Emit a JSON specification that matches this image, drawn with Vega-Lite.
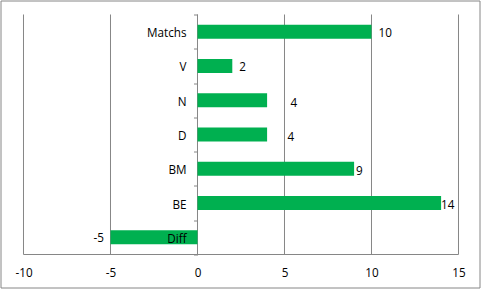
{
  "$schema": "https://vega.github.io/schema/vega-lite/v6.json",
  "width": 479,
  "height": 287,
  "autosize": {"type": "none"},
  "padding": {"left": 0.5, "top": 0.5, "right": 1.5, "bottom": 1.5},
  "background": "white",
  "config": {
    "view": {"stroke": "#868686", "strokeWidth": 1},
    "font": "Open Sans",
    "text": {"font": "Open Sans", "fontSize": 11.7, "color": "black"}
  },
  "datasets": {
    "stats": [
      {"cat": "Matchs", "value": 10},
      {"cat": "V", "value": 2},
      {"cat": "N", "value": 4},
      {"cat": "D", "value": 4},
      {"cat": "BM", "value": 9},
      {"cat": "BE", "value": 14},
      {"cat": "Diff", "value": -5}
    ],
    "grid": [{"g": -10}, {"g": -5}, {"g": 0}, {"g": 5}, {"g": 10}, {"g": 15}]
  },
  "layer": [
    {
      "data": {"name": "grid"},
      "mark": {"type": "rule", "color": "#868686", "strokeWidth": 1},
      "encoding": {
        "x": {"field": "g", "type": "quantitative", "scale": {"domain": [-11.3218, 16.2069], "nice": false, "zero": false},
          "axis": {"orient": "bottom", "offset": -33, "values": [-10, -5, 0, 5, 10, 15], "domain": false, "ticks": false, "tickSize": 0, "grid": false, "labelPadding": 13, "labelFontSize": 11.7, "labelFont": "Open Sans", "labelColor": "black", "title": null, "labelFlush": false, "labelOverlap": false, "labelExpr": "datum.value + ''"}},
        "y": {"datum": "Matchs", "type": "nominal", "bandPosition": 0, "scale": {"domain": ["Matchs", "V", "N", "D", "BM", "BE", "Diff"], "paddingInner": 0, "paddingOuter": 0.6854, "align": 0.29787, "round": false},
          "axis": {"orient": "left", "offset": -197, "domain": false, "ticks": true, "tickBand": "extent", "tickSize": 4, "tickColor": "#868686", "tickWidth": 1, "grid": false, "labelPadding": 7.5, "labelFontSize": 11.7, "labelFont": "Open Sans", "labelColor": "black", "labelOffset": 1, "title": null, "zindex": 1}},
        "y2": {"datum": "Diff", "bandPosition": 1}
      }
    },
    {
      "data": {"values": [{}]},
      "mark": {"type": "rule", "color": "#868686", "strokeWidth": 1},
      "encoding": {
        "x": {"datum": -10, "type": "quantitative"},
        "x2": {"datum": 15},
        "y": {"datum": "Diff", "type": "nominal", "bandPosition": 1}
      }
    },
    {
      "data": {"name": "stats"},
      "mark": {"type": "bar", "color": "#00B050", "height": {"band": 0.408}},
      "encoding": {
        "x": {"field": "value", "type": "quantitative"},
        "x2": {"datum": 0},
        "y": {"field": "cat", "type": "nominal", "sort": null}
      }
    },
    {
      "data": {"name": "stats"},
      "transform": [{"filter": "datum.cat === 'Matchs' || datum.cat === 'V'"}],
      "mark": {"type": "text", "align": "left", "baseline": "middle", "dx": 7, "dy": 1.5},
      "encoding": {"x": {"field": "value", "type": "quantitative"}, "y": {"field": "cat", "type": "nominal"}, "text": {"field": "value", "type": "nominal"}}
    },
    {
      "data": {"name": "stats"},
      "transform": [{"filter": "datum.cat === 'N'"}],
      "mark": {"type": "text", "align": "left", "baseline": "middle", "dx": 23.5, "dy": 3},
      "encoding": {"x": {"field": "value", "type": "quantitative"}, "y": {"field": "cat", "type": "nominal"}, "text": {"field": "value", "type": "nominal"}}
    },
    {
      "data": {"name": "stats"},
      "transform": [{"filter": "datum.cat === 'D'"}],
      "mark": {"type": "text", "align": "left", "baseline": "middle", "dx": 20.5, "dy": 2},
      "encoding": {"x": {"field": "value", "type": "quantitative"}, "y": {"field": "cat", "type": "nominal"}, "text": {"field": "value", "type": "nominal"}}
    },
    {
      "data": {"name": "stats"},
      "transform": [{"filter": "datum.cat === 'BM'"}],
      "mark": {"type": "text", "align": "left", "baseline": "middle", "dx": 2, "dy": 2},
      "encoding": {"x": {"field": "value", "type": "quantitative"}, "y": {"field": "cat", "type": "nominal"}, "text": {"field": "value", "type": "nominal"}}
    },
    {
      "data": {"name": "stats"},
      "transform": [{"filter": "datum.cat === 'BE'"}],
      "mark": {"type": "text", "align": "left", "baseline": "middle", "dx": 0, "dy": 1.7},
      "encoding": {"x": {"field": "value", "type": "quantitative"}, "y": {"field": "cat", "type": "nominal"}, "text": {"field": "value", "type": "nominal"}}
    },
    {
      "data": {"name": "stats"},
      "transform": [{"filter": "datum.cat === 'Diff'"}],
      "mark": {"type": "text", "align": "right", "baseline": "middle", "dx": -6.5, "dy": 1},
      "encoding": {"x": {"field": "value", "type": "quantitative"}, "y": {"field": "cat", "type": "nominal"}, "text": {"field": "value", "type": "nominal"}}
    }
  ]
}
